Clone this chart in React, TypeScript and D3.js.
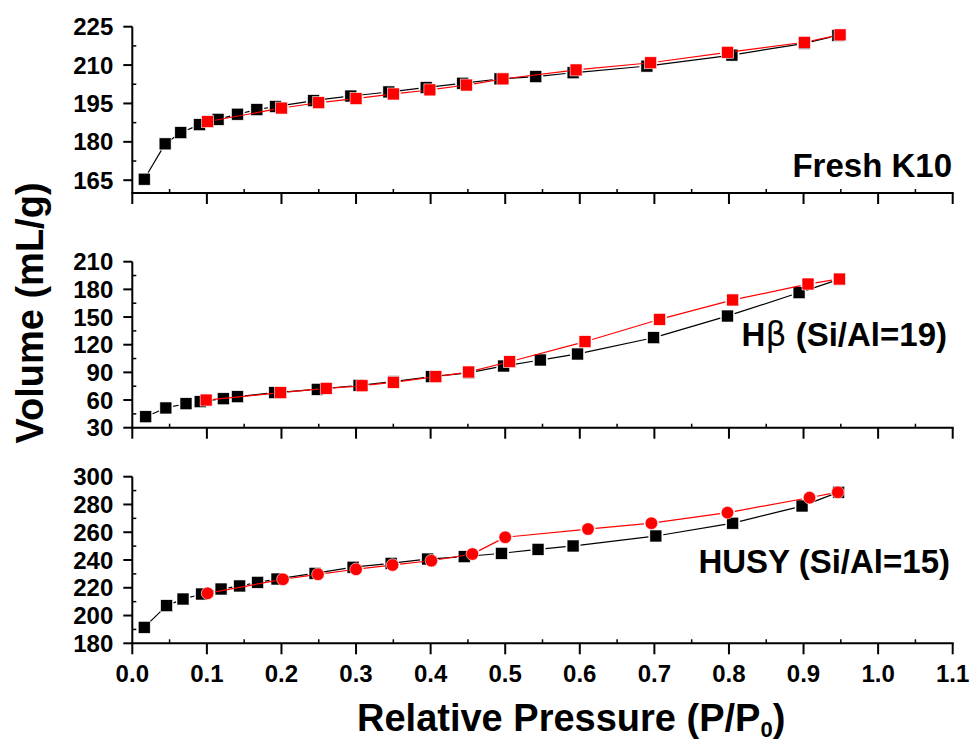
import React from "react";
import * as d3 from "d3";

// Relative pressure axis
const xTicks = [0, 0.1, 0.2, 0.3, 0.4, 0.5, 0.6, 0.7, 0.8, 0.9, 1.0, 1.1];

// Fresh K10 — adsorption (black) and desorption (red)
const k10AdsP = [0.016, 0.044, 0.065, 0.090, 0.115, 0.141, 0.167, 0.192, 0.243, 0.293, 0.344, 0.394, 0.443, 0.493, 0.541, 0.591, 0.690, 0.804, 0.901, 0.946];
const k10AdsV = [165.4, 179.2, 183.6, 186.7, 188.8, 190.8, 192.6, 193.8, 196.1, 197.9, 199.5, 201.2, 202.9, 204.6, 205.5, 207.0, 209.6, 213.9, 218.5, 221.6];
const k10DesP = [0.101, 0.200, 0.250, 0.300, 0.350, 0.399, 0.448, 0.497, 0.595, 0.695, 0.798, 0.901, 0.949];
const k10DesV = [187.9, 193.2, 195.3, 196.9, 198.7, 200.3, 202.2, 204.6, 208.1, 210.9, 215.0, 218.9, 221.8];
const k10Ticks = [165, 180, 195, 210, 225];

// H-beta (Si/Al=19)
const hbAdsP = [0.018, 0.045, 0.072, 0.091, 0.122, 0.141, 0.191, 0.248, 0.304, 0.350, 0.401, 0.451, 0.498, 0.547, 0.597, 0.699, 0.798, 0.894, 0.948];
const hbAdsV = [41.9, 51.4, 56.0, 58.2, 61.4, 63.6, 68.0, 71.6, 76.0, 79.9, 85.3, 89.6, 96.9, 103.4, 109.9, 127.6, 151.1, 176.4, 191.0];
const hbDesP = [0.099, 0.199, 0.260, 0.308, 0.350, 0.407, 0.451, 0.506, 0.607, 0.707, 0.805, 0.906, 0.948];
const hbDesV = [60.0, 68.0, 72.7, 75.5, 79.2, 85.3, 90.4, 101.6, 123.3, 147.5, 168.5, 185.8, 191.2];
const hbTicks = [30, 60, 90, 120, 150, 180, 210];

// HUSY (Si/Al=15)
const usyAdsP = [0.016, 0.046, 0.068, 0.093, 0.119, 0.144, 0.168, 0.194, 0.245, 0.296, 0.347, 0.396, 0.445, 0.495, 0.544, 0.591, 0.702, 0.805, 0.898, 0.947];
const usyAdsV = [191.5, 207.1, 211.9, 215.5, 219.1, 221.3, 223.9, 226.3, 230.4, 234.8, 237.6, 240.7, 242.4, 244.8, 247.7, 250.1, 257.3, 266.5, 278.9, 288.8];
const usyDesP = [0.101, 0.202, 0.249, 0.300, 0.349, 0.401, 0.456, 0.500, 0.611, 0.696, 0.798, 0.908, 0.946];
const usyDesV = [216.0, 226.1, 229.7, 233.3, 236.4, 239.5, 244.3, 256.4, 262.3, 266.5, 274.1, 284.9, 288.8];
const usyTicks = [180, 200, 220, 240, 260, 280, 300];

const FONT = "'Liberation Sans', Arial, Helvetica, sans-serif";
const X0 = 132.3;
const X1 = 952.7;

const x = d3.scaleLinear().domain([0, 1.1]).range([X0, X1]);

type Series = { p: number[]; v: number[]; color: string; shape: "square" | "circle" };
type PanelSpec = {
  domain: [number, number];
  range: [number, number];
  ticks: number[];
  minorStep: number;
  series: Series[];
  label: React.ReactNode;
  labelX: number;
  labelY: number;
};

const panels: PanelSpec[] = [
  {
    domain: [160, 225],
    range: [193, 26.7],
    ticks: k10Ticks,
    minorStep: 7.5,
    series: [
      { p: k10AdsP, v: k10AdsV, color: "#000", shape: "square" },
      { p: k10DesP, v: k10DesV, color: "#ff0000", shape: "square" },
    ],
    label: "Fresh K10",
    labelX: 952,
    labelY: 176.7,
  },
  {
    domain: [30, 210],
    range: [427.7, 261.7],
    ticks: hbTicks,
    minorStep: 15,
    series: [
      { p: hbAdsP, v: hbAdsV, color: "#000", shape: "square" },
      { p: hbDesP, v: hbDesV, color: "#ff0000", shape: "square" },
    ],
    label: (
      <>
        H<tspan fontWeight="normal" fontFamily="'DejaVu Sans', sans-serif">β</tspan> (Si/Al=19)
      </>
    ),
    labelX: 947,
    labelY: 346,
  },
  {
    domain: [180, 300],
    range: [643.3, 476.7],
    ticks: usyTicks,
    minorStep: 10,
    series: [
      { p: usyAdsP, v: usyAdsV, color: "#000", shape: "square" },
      { p: usyDesP, v: usyDesV, color: "#ff0000", shape: "circle" },
    ],
    label: "HUSY (Si/Al=15)",
    labelX: 950,
    labelY: 572.7,
  },
];

const GAP = 7.5;

function Panel({ spec, showXLabels }: { spec: PanelSpec; showXLabels: boolean }) {
  const y = d3.scaleLinear().domain(spec.domain).range(spec.range);
  const yBottom = spec.range[0];
  const yTop = spec.range[1];
  const minors: number[] = [];
  for (let v = spec.ticks[0] - spec.minorStep; v <= spec.domain[1] + 1e-6; v += spec.minorStep) {
    if (v < spec.domain[0] - 1e-6) continue;
    if (spec.ticks.some((t) => Math.abs(t - v) < 1e-6)) continue;
    minors.push(v);
  }
  const xMinors = d3.range(0.05, 1.1, 0.1);

  return (
    <g>
      {spec.series.map((s, si) => {
        const pts = s.p.map((p, i) => [x(p), y(s.v[i])] as [number, number]);
        const segs: React.ReactNode[] = [];
        for (let i = 0; i < pts.length - 1; i++) {
          const [ax, ay] = pts[i];
          const [bx, by] = pts[i + 1];
          const len = Math.hypot(bx - ax, by - ay);
          if (len <= GAP * 2) continue;
          const ux = (bx - ax) / len;
          const uy = (by - ay) / len;
          segs.push(
            <line
              key={i}
              x1={ax + ux * GAP}
              y1={ay + uy * GAP}
              x2={bx - ux * GAP}
              y2={by - uy * GAP}
              stroke={s.color}
              strokeWidth={1.2}
            />
          );
        }
        return (
          <g key={si}>
            {segs}
            {pts.map(([px, py], i) =>
              s.shape === "square" ? (
                <rect key={i} x={px - 6} y={py - 6} width={12} height={12} fill={s.color} stroke="#fff" strokeWidth={0.6} />
              ) : (
                <circle key={i} cx={px} cy={py} r={6.3} fill={s.color} stroke="#fff" strokeWidth={0.6} />
              )
            )}
          </g>
        );
      })}

      {/* y axis */}
      <line x1={X0} x2={X0} y1={yTop} y2={yBottom} stroke="#000" strokeWidth={2} />
      {spec.ticks.map((t) => (
        <g key={t}>
          <line x1={X0 - 9} x2={X0} y1={y(t)} y2={y(t)} stroke="#000" strokeWidth={2} />
          <text
            x={X0 - 19}
            y={y(t)}
            dy="0.36em"
            textAnchor="end"
            fontFamily={FONT}
            fontWeight="bold"
            fontSize={24}
          >
            {t}
          </text>
        </g>
      ))}
      {minors.map((m) => (
        <line key={m} x1={X0} x2={X0 + 4} y1={y(m)} y2={y(m)} stroke="#000" strokeWidth={1.5} />
      ))}

      {/* x axis */}
      <line x1={X0 - 1} x2={X1 + 1} y1={yBottom} y2={yBottom} stroke="#000" strokeWidth={2} />
      {xTicks.map((t) => (
        <g key={t}>
          <line x1={x(t)} x2={x(t)} y1={yBottom} y2={yBottom + 11} stroke="#000" strokeWidth={2} />
          {showXLabels && (
            <text
              x={x(t)}
              y={682}
              textAnchor="middle"
              fontFamily={FONT}
              fontWeight="bold"
              fontSize={24}
            >
              {d3.format(".1f")(t)}
            </text>
          )}
        </g>
      ))}
      {xMinors.map((m) => (
        <line key={m} x1={x(m)} x2={x(m)} y1={yBottom} y2={yBottom - 4} stroke="#000" strokeWidth={1.5} />
      ))}

      <text
        x={spec.labelX}
        y={spec.labelY}
        textAnchor="end"
        fontFamily={FONT}
        fontWeight="bold"
        fontSize={33}
      >
        {spec.label}
      </text>
    </g>
  );
}

export default function App() {
  return (
    <svg
      width={971}
      height={744}
      style={{ position: "absolute", left: 0, top: 0, background: "#fff" }}
    >
      <rect width={971} height={744} fill="#fff" />
      {panels.map((p, i) => (
        <Panel key={i} spec={p} showXLabels={i === panels.length - 1} />
      ))}
      <text
        transform="translate(43,313) rotate(-90)"
        textAnchor="middle"
        fontFamily={FONT}
        fontWeight="bold"
        fontSize={38}
      >
        Volume (mL/g)
      </text>
      <text x={357} y={731} fontFamily={FONT} fontWeight="bold" fontSize={38}>
        Relative Pressure (P/P
        <tspan fontSize={22} dy={6}>0</tspan>
        <tspan dy={-6}>)</tspan>
      </text>
    </svg>
  );
}
